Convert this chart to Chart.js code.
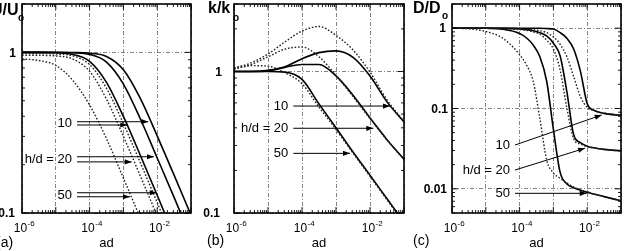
<!DOCTYPE html>
<html>
<head>
<meta charset="utf-8">
<script src="https://cdn.jsdelivr.net/npm/chart.js@4.4.1/dist/chart.umd.min.js"></script>
<style>
  html, body { margin: 0; padding: 0; background: #fff; }
  #wrap { position: relative; width: 624px; height: 251px; overflow: hidden; }
  canvas { position: absolute; left: 0; top: 0; }
</style>
</head>
<body>
<div id="wrap">
  <canvas id="ca" width="624" height="251"></canvas>
  <canvas id="cb" width="624" height="251"></canvas>
  <canvas id="cc" width="624" height="251"></canvas>
</div>
<script>
// x values are given as exponents: ad = 10^e
const abLogX = [-6, -5.5, -5, -4.5, -4, -3.5, -3, -2.5, -2, -1.5, -1];
const cLogX = [-6, -5.5, -5, -4.5, -4, -3.8, -3.6, -3.4, -3.2, -3.0, -2.8, -2.6, -2.4, -2.2, -2.0, -1.8, -1.5, -1.0];

const decades = [1e-6, 1e-5, 1e-4, 1e-3, 1e-2, 1e-1];
const xLabelExp = [-6, -4, -2];

// (a) U/Uo  -- solid and dotted curves for h/d = 10, 20, 50
const aSolid10 = [1, 1, 1, 0.998, 0.988, 0.942, 0.779, 0.517, 0.302, 0.172, 0.097];
const aSolid20 = [1, 1, 0.999, 0.994, 0.971, 0.870, 0.635, 0.386, 0.220, 0.125, 0.070];
const aSolid50 = [1, 1, 0.994, 0.970, 0.880, 0.651, 0.399, 0.229, 0.129, 0.072, 0.041];
const aDot10 = [0.985, 0.984, 0.977, 0.951, 0.839, 0.598, 0.360, 0.206, 0.116, 0.065, 0.037];
const aDot20 = [0.96, 0.958, 0.950, 0.909, 0.762, 0.511, 0.300, 0.170, 0.096, 0.054, 0.031];
const aDot50 = [0.91, 0.89, 0.83, 0.67, 0.47, 0.29, 0.165, 0.093, 0.052, 0.030, 0.017];

// (b) k/ko
const bSolid10 = [1.0, 1.0, 1.02, 1.08, 1.23, 1.36, 1.40, 1.26, 0.93, 0.61, 0.44];
const bSolid20 = [1.0, 1.0, 1.01, 1.07, 1.12, 1.12, 0.93, 0.68, 0.47, 0.33, 0.24];
const bSolid50 = [1.0, 1.0, 1.0, 0.99, 0.88, 0.59, 0.40, 0.27, 0.185, 0.126, 0.086];
const bDot10 = [1.06, 1.15, 1.33, 1.62, 1.93, 2.08, 1.80, 1.42, 0.99, 0.63, 0.445];
const bDot20 = [1.05, 1.12, 1.27, 1.44, 1.49, 1.27, 0.94, 0.665, 0.465, 0.328, 0.238];
const bDot50 = [1.04, 1.10, 1.09, 0.98, 0.82, 0.56, 0.39, 0.265, 0.182, 0.124, 0.085];

// (c) D/Do
const cSolid10 = [1, 1, 1, 1, 1, 1, 1, 0.998, 0.99, 0.975, 0.88, 0.75, 0.55, 0.29, 0.115, 0.095, 0.087, 0.082];
const cSolid20 = [1, 1, 1, 0.995, 0.98, 0.96, 0.93, 0.88, 0.80, 0.65, 0.45, 0.16, 0.047, 0.0375, 0.034, 0.0325, 0.031, 0.0297];
const cSolid50 = [1, 1, 1, 0.97, 0.86, 0.76, 0.62, 0.44, 0.22, 0.055, 0.016, 0.0115, 0.0103, 0.0096, 0.0091, 0.0086, 0.0080, 0.0071];
const cDot10 = [1, 1, 1, 0.995, 0.985, 0.97, 0.955, 0.93, 0.88, 0.78, 0.63, 0.44, 0.25, 0.14, 0.103, 0.094, 0.088, 0.082];
const cDot20 = [1, 1, 0.995, 0.98, 0.96, 0.94, 0.90, 0.84, 0.71, 0.55, 0.30, 0.10, 0.042, 0.036, 0.0335, 0.0322, 0.031, 0.0295];
const cDot50 = [1.0, 0.98, 0.91, 0.75, 0.47, 0.35, 0.22, 0.075, 0.023, 0.0158, 0.0135, 0.0118, 0.0105, 0.0097, 0.0091, 0.0086, 0.0080, 0.0071];

// arrow annotations in data coordinates [fromExp, toExp, yFrom, yTo]
const aArrows = [
  { text: "10", lines: [[-4.373, -2.263, 0.370, 0.370], [-4.373, -2.885, 0.353, 0.353]] },
  { text: "h/d = 20", lines: [[-4.373, -2.095, 0.224, 0.224], [-4.373, -2.755, 0.208, 0.208]] },
  { text: "50", lines: [[-4.373, -2.015, 0.1337, 0.1337], [-4.373, -2.805, 0.1262, 0.1262]] }
];
const bArrows = [
  { text: "10", lines: [[-4.256, -1.412, 0.570, 0.570]] },
  { text: "h/d = 20", lines: [[-4.256, -1.903, 0.397, 0.397]] },
  { text: "50", lines: [[-4.256, -2.588, 0.264, 0.264]] }
];
const cArrows = [
  { text: "10", lines: [[-4.136, -1.571, 0.0351, 0.083]] },
  { text: "h/d = 20", lines: [[-4.136, -2.065, 0.01714, 0.032]] },
  { text: "50", lines: [[-4.136, -2.015, 0.00879, 0.00879]] }
];

const FONT = '"Liberation Sans", Arial, sans-serif';

const panels = [
  {
    id: "ca", area: { l: 22, t: 4, r: 191, b: 213 }, yMin: 0.1, yMax: 2,
    logX: abLogX, solid: [aSolid10, aSolid20, aSolid50], dotted: [aDot10, aDot20, aDot50],
    yTicks: [1, 0.1], yTickText: ["1", "0.1"], yTickRight: [16, 15],
    title: { text: "U/U", x: 18.5, align: "right", base: 15, subX: 18, subBase: 20.5 },
    letter: { text: "(a)", x: -4, base: 247 }, arrows: aArrows
  },
  {
    id: "cb", area: { l: 234, t: 4, r: 404, b: 213 }, yMin: 0.1, yMax: 3,
    logX: abLogX, solid: [bSolid10, bSolid20, bSolid50], dotted: [bDot10, bDot20, bDot50],
    yTicks: [1, 0.1], yTickText: ["1", "0.1"], yTickRight: [222, 220],
    title: { text: "k/k", x: 208, align: "left", base: 13, subX: 233, subBase: 21 },
    letter: { text: "(b)", x: 207, base: 245 }, arrows: bArrows
  },
  {
    id: "cc", area: { l: 452, t: 4, r: 621, b: 213 }, yMin: 0.005, yMax: 2,
    logX: cLogX, solid: [cSolid10, cSolid20, cSolid50], dotted: [cDot10, cDot20, cDot50],
    yTicks: [1, 0.1, 0.01], yTickText: ["1", "0.1", "0.01"], yTickRight: [446, 448, 447],
    title: { text: "D/D", x: 413, align: "left", base: 13, subX: 442, subBase: 19 },
    letter: { text: "(c)", x: 413, base: 245 }, arrows: cArrows
  }
];

function toPoints(logX, ys) {
  return logX.map((e, i) => ({ x: Math.pow(10, e), y: ys[i] }));
}

function arrowHead(ctx, x0, y0, x1, y1) {
  const ang = Math.atan2(y1 - y0, x1 - x0);
  const len = 7, half = 2.6;
  ctx.beginPath();
  ctx.moveTo(x1, y1);
  ctx.lineTo(x1 - len * Math.cos(ang) + half * Math.sin(ang), y1 - len * Math.sin(ang) - half * Math.cos(ang));
  ctx.lineTo(x1 - len * Math.cos(ang) - half * Math.sin(ang), y1 - len * Math.sin(ang) + half * Math.cos(ang));
  ctx.closePath();
  ctx.fill();
}

const decorPlugin = {
  id: "decor",
  afterDraw(chart) {
    const p = chart.options.plugins.decor.panel;
    const ctx = chart.ctx;
    const xs = chart.scales.x, ys = chart.scales.y;
    const { left, right, top, bottom } = chart.chartArea;
    ctx.save();
    ctx.strokeStyle = "#000";
    ctx.fillStyle = "#000";

    // inward tick marks on all four sides
    ctx.lineWidth = 0.9;
    ctx.beginPath();
    for (let e = -6; e <= -1; e++) {
      for (let k = 1; k <= 9; k++) {
        const v = k * Math.pow(10, e);
        if (v > xs.max * 1.0001) break;
        const x = xs.getPixelForValue(v);
        const len = k === 1 ? 6 : 3;
        ctx.moveTo(x, bottom); ctx.lineTo(x, bottom - len);
        ctx.moveTo(x, top); ctx.lineTo(x, top + len);
      }
    }
    const e0 = Math.floor(Math.log10(ys.min));
    for (let e = e0; e <= 1; e++) {
      for (let k = 1; k <= 9; k++) {
        const v = k * Math.pow(10, e);
        if (v < ys.min * 0.9999 || v > ys.max * 1.0001) continue;
        const y = ys.getPixelForValue(v);
        const len = k === 1 ? 6 : 3;
        ctx.moveTo(left, y); ctx.lineTo(left + len, y);
        ctx.moveTo(right, y); ctx.lineTo(right - len, y);
      }
    }
    ctx.stroke();

    // frame
    ctx.lineWidth = 1.6;
    ctx.strokeRect(left, top, right - left, bottom - top);

    // x tick labels 10^e
    ctx.textBaseline = "alphabetic";
    xLabelExp.forEach(e => {
      const x = xs.getPixelForValue(Math.pow(10, e));
      ctx.font = "12px " + FONT;
      const w1 = ctx.measureText("10").width;
      ctx.font = "8px " + FONT;
      const sup = String(e);
      const w2 = ctx.measureText(sup).width;
      const start = x + 2 - (w1 + w2) / 2;
      ctx.font = "12px " + FONT;
      ctx.textAlign = "left";
      ctx.fillText("10", start, 232);
      ctx.font = "8px " + FONT;
      ctx.fillText(sup, start + w1 + 0.5, 226);
    });

    // y tick labels
    ctx.font = "bold 12px " + FONT;
    ctx.textAlign = "right";
    ctx.textBaseline = "middle";
    p.yTicks.forEach((v, i) => {
      ctx.fillText(p.yTickText[i], p.yTickRight[i], ys.getPixelForValue(v) + 1);
    });

    // axis titles
    ctx.textBaseline = "alphabetic";
    ctx.font = "bold 16px " + FONT;
    ctx.textAlign = p.title.align;
    ctx.fillText(p.title.text, p.title.x, p.title.base);
    ctx.font = "bold 10px " + FONT;
    ctx.textAlign = "left";
    ctx.fillText("o", p.title.subX, p.title.subBase);

    ctx.font = "13px " + FONT;
    ctx.textAlign = "center";
    ctx.fillText("ad", (left + right) / 2, 247);
    ctx.font = "14px " + FONT;
    ctx.textAlign = "left";
    ctx.fillText(p.letter.text, p.letter.x, p.letter.base);

    // arrows with h/d labels
    ctx.lineWidth = 1;
    p.arrows.forEach(g => {
      let yMid = 0, xStart = Infinity;
      g.lines.forEach(l => {
        const x0 = xs.getPixelForValue(Math.pow(10, l[0]));
        const x1 = xs.getPixelForValue(Math.pow(10, l[1]));
        const y0 = ys.getPixelForValue(l[2]);
        const y1 = ys.getPixelForValue(l[3]);
        ctx.beginPath();
        ctx.moveTo(x0, y0);
        ctx.lineTo(x1, y1);
        ctx.stroke();
        arrowHead(ctx, x0, y0, x1, y1);
        yMid += y0 / g.lines.length;
        xStart = Math.min(xStart, x0);
      });
      ctx.font = "13px " + FONT;
      ctx.textAlign = "right";
      ctx.textBaseline = "middle";
      ctx.fillText(g.text, xStart - 5, yMid + 0.5);
    });
    ctx.restore();
  }
};

panels.forEach(p => {
  const datasets = [];
  p.dotted.forEach(ys => datasets.push({
    data: toPoints(p.logX, ys), borderColor: "#222", borderWidth: 1.4,
    borderDash: [1.6, 1.8], pointRadius: 0, fill: false
  }));
  p.solid.forEach(ys => datasets.push({
    data: toPoints(p.logX, ys), borderColor: "#000", borderWidth: 1.6,
    pointRadius: 0, fill: false
  }));

  const yDecades = [0.001, 0.01, 0.1, 1, 10];
  new Chart(document.getElementById(p.id), {
    type: "line",
    data: { datasets },
    plugins: [decorPlugin],
    options: {
      responsive: false,
      animation: false,
      devicePixelRatio: 1,
      layout: { padding: { left: p.area.l, top: p.area.t, right: 624 - p.area.r, bottom: 251 - p.area.b } },
      plugins: { legend: { display: false }, tooltip: { enabled: false }, decor: { panel: p } },
      elements: { line: { cubicInterpolationMode: "monotone" }, point: { radius: 0 } },
      scales: {
        x: {
          type: "logarithmic", min: 1e-6, max: 1e-1,
          afterBuildTicks: ax => { ax.ticks = decades.map(v => ({ value: v })); },
          ticks: { display: false },
          grid: { color: "#666", lineWidth: 0.8, drawTicks: false },
          border: { display: false, dash: [4, 2, 1, 2] }
        },
        y: {
          type: "logarithmic", min: p.yMin, max: p.yMax,
          afterBuildTicks: ax => {
            ax.ticks = yDecades.filter(v => v >= p.yMin && v <= p.yMax).map(v => ({ value: v }));
          },
          ticks: { display: false },
          grid: { color: "#666", lineWidth: 0.8, drawTicks: false },
          border: { display: false, dash: [4, 2, 1, 2] }
        }
      }
    }
  });
});
</script>
</body>
</html>
